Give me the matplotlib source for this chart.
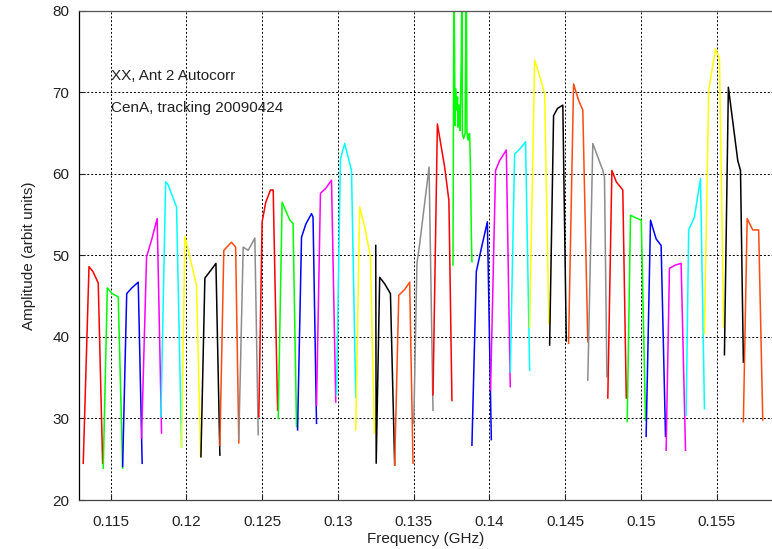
import matplotlib
matplotlib.use("Agg")
import matplotlib.pyplot as plt

plt.rcParams['font.family'] = ['Liberation Sans', 'DejaVu Sans']

# Band colours, cycling across the sub-bands
colors = ['#ff0000', '#00ff00', '#0000ff', '#ff00ff', '#00ffff', '#ffff00',
          '#000000', '#ff4a10', '#8c8c8c'] * 3 + \
         ['#ff0000', '#00ff00', '#0000ff', '#ff00ff', '#00ffff', '#ffff00',
          '#000000', '#ff4a10']

# Frequency (GHz) of the vertices of each sub-band trace
freqs = [
    [0.11319, 0.11357, 0.11383, 0.11418, 0.11447],
    [0.11451, 0.11478, 0.11509, 0.11550, 0.11579],
    [0.11579, 0.11606, 0.11640, 0.11682, 0.11708],
    [0.11704, 0.11737, 0.11772, 0.11807, 0.11836],
    [0.11832, 0.11863, 0.11878, 0.11935, 0.11968],
    [0.11968, 0.11990, 0.12067, 0.12094],
    [0.12096, 0.12122, 0.12155, 0.12195, 0.12221],
    [0.12221, 0.12247, 0.12298, 0.12325, 0.12346],
    [0.12346, 0.12375, 0.12408, 0.12452, 0.12474],
    [0.12478, 0.12500, 0.12524, 0.12555, 0.12573, 0.12602],
    [0.12606, 0.12632, 0.12683, 0.12704, 0.12727],
    [0.12734, 0.12760, 0.12788, 0.12826, 0.12836, 0.12859],
    [0.12859, 0.12885, 0.12920, 0.12958, 0.12986],
    [0.12991, 0.13017, 0.13045, 0.13090, 0.13118],
    [0.13118, 0.13144, 0.13177, 0.13215, 0.13241],
    [0.13250, 0.13253, 0.13276, 0.13309, 0.13347, 0.13375],
    [0.13375, 0.13402, 0.13441, 0.13474, 0.13496],
    [0.13501, 0.13522, 0.13540, 0.13602, 0.13628],
    [0.13628, 0.13657, 0.13705, 0.13733, 0.13753],
    [0.13760, 0.13766, 0.13774, 0.13777, 0.13783, 0.13790, 0.13793, 0.13800,
     0.13806, 0.13815, 0.13819, 0.13822, 0.13830, 0.13840, 0.13848, 0.13852,
     0.13860, 0.13866, 0.13870, 0.13876, 0.13881, 0.13885],
    [0.13885, 0.13914, 0.13949, 0.13987, 0.14013],
    [0.14008, 0.14041, 0.14068, 0.14112, 0.14138],
    [0.14138, 0.14167, 0.14200, 0.14239, 0.14266],
    [0.14266, 0.14299, 0.14332, 0.14365, 0.14393],
    [0.14398, 0.14424, 0.14450, 0.14485, 0.14508],
    [0.14523, 0.14556, 0.14589, 0.14617, 0.14650],
    [0.14650, 0.14683, 0.14749, 0.14760, 0.14776],
    [0.14782, 0.14809, 0.14838, 0.14881, 0.14904],
    [0.14910, 0.14932, 0.14965, 0.15003, 0.15031],
    [0.15035, 0.15064, 0.15101, 0.15134, 0.15163],
    [0.15167, 0.15189, 0.15229, 0.15266, 0.15295],
    [0.15299, 0.15316, 0.15354, 0.15394, 0.15420],
    [0.15420, 0.15448, 0.15493, 0.15519, 0.15547],
    [0.15552, 0.15578, 0.15640, 0.15658, 0.15677],
    [0.15677, 0.15702, 0.15739, 0.15778, 0.15805],
]

# Amplitude (arbit units) at those vertices
amps = [
    [24.5, 48.6, 48.0, 46.6, 24.5],
    [23.9, 46.0, 45.3, 44.9, 23.9],
    [24.1, 45.3, 46.0, 46.7, 24.5],
    [27.6, 49.8, 52.0, 54.5, 28.2],
    [30.2, 59.0, 58.7, 55.9, 26.5],
    [26.5, 52.3, 46.3, 25.3],
    [25.3, 47.2, 48.0, 49.0, 25.5],
    [26.7, 50.6, 51.6, 51.0, 27.0],
    [27.5, 51.0, 50.6, 52.1, 28.0],
    [30.2, 54.1, 56.5, 58.0, 58.0, 31.0],
    [30.0, 56.5, 54.3, 53.9, 29.0],
    [28.6, 52.2, 53.8, 55.1, 54.7, 29.4],
    [31.6, 57.6, 58.2, 59.2, 32.0],
    [32.9, 61.8, 63.7, 60.4, 32.5],
    [28.6, 55.9, 53.5, 49.8, 28.2],
    [51.2, 24.5, 47.3, 46.5, 45.3, 24.3],
    [24.3, 45.1, 45.8, 46.7, 24.5],
    [29.4, 49.0, 51.4, 60.8, 31.0],
    [32.9, 66.1, 60.8, 56.7, 32.2],
    [48.8, 85.0, 65.9, 70.4, 67.8, 69.4, 65.7, 68.4,
     65.3, 74.3, 85.0, 64.9, 64.3, 64.9, 85.0, 65.1,
     64.1, 64.9, 64.9, 60.0, 52.7, 49.2],
    [26.7, 48.0, 51.0, 54.1, 27.4],
    [33.5, 60.4, 61.6, 62.9, 33.9],
    [35.7, 62.4, 63.0, 63.9, 35.9],
    [41.2, 73.9, 72.0, 69.8, 41.6],
    [39.0, 67.1, 68.0, 68.4, 39.5],
    [39.2, 71.0, 69.0, 67.8, 39.4],
    [34.7, 63.7, 60.4, 59.6, 35.1],
    [32.5, 60.4, 59.0, 58.0, 32.5],
    [29.6, 54.9, 54.6, 54.3, 29.8],
    [27.8, 54.3, 52.0, 51.2, 27.8],
    [26.1, 48.4, 48.8, 49.0, 26.1],
    [30.4, 53.1, 54.7, 59.4, 31.2],
    [40.4, 70.2, 75.3, 74.1, 41.2],
    [37.8, 70.6, 61.6, 60.4, 36.9],
    [29.6, 54.5, 53.1, 53.1, 29.8],
]

x_ticks = [0.115, 0.12, 0.125, 0.13, 0.135, 0.14, 0.145, 0.15, 0.155]
x_tick_labels = ['0.115', '0.12', '0.125', '0.13', '0.135', '0.14', '0.145', '0.15', '0.155']
y_ticks = [20, 30, 40, 50, 60, 70, 80]
annotations = ['XX, Ant 2 Autocorr', 'CenA, tracking 20090424']

fig = plt.figure(figsize=(7.72, 5.49), dpi=100)
ax = fig.add_axes([79 / 772, 49 / 549, 1 - 79 / 772, 489.5 / 549])

for f, a, c in zip(freqs, amps, colors):
    ax.plot(f, a, color=c, lw=1.1, solid_joinstyle='round')

ax.set_xlim(0.11291, 0.15866)
ax.set_ylim(20, 80)
ax.set_xticks(x_ticks)
ax.set_xticklabels(x_tick_labels)
ax.set_yticks(y_ticks)
ax.grid(True, color='black', linestyle=(0, (2, 2)), lw=0.7)
ax.tick_params(direction='in', length=4, labelsize=11, colors='#222222', pad=7)
ax.tick_params(axis='x', pad=10.5)
ax.spines['right'].set_visible(False)
for s in ['left', 'top', 'bottom']:
    ax.spines[s].set_linewidth(0.9)
ax.spines['left'].set_color('black')
ax.spines['top'].set_color('#555555')
ax.spines['bottom'].set_color('#444444')

ax.set_xlabel('Frequency (GHz)', fontsize=11, color='#222222', labelpad=2.5)
ax.set_ylabel('Amplitude (arbit units)', fontsize=11, color='#222222', labelpad=12)

ax.text(0.11499, 72.0, annotations[0], fontsize=11, va='center', ha='left', color='#222222')
ax.text(0.11499, 68.0, annotations[1], fontsize=11, va='center', ha='left', color='#222222')

fig.savefig('out.png', dpi=100)
